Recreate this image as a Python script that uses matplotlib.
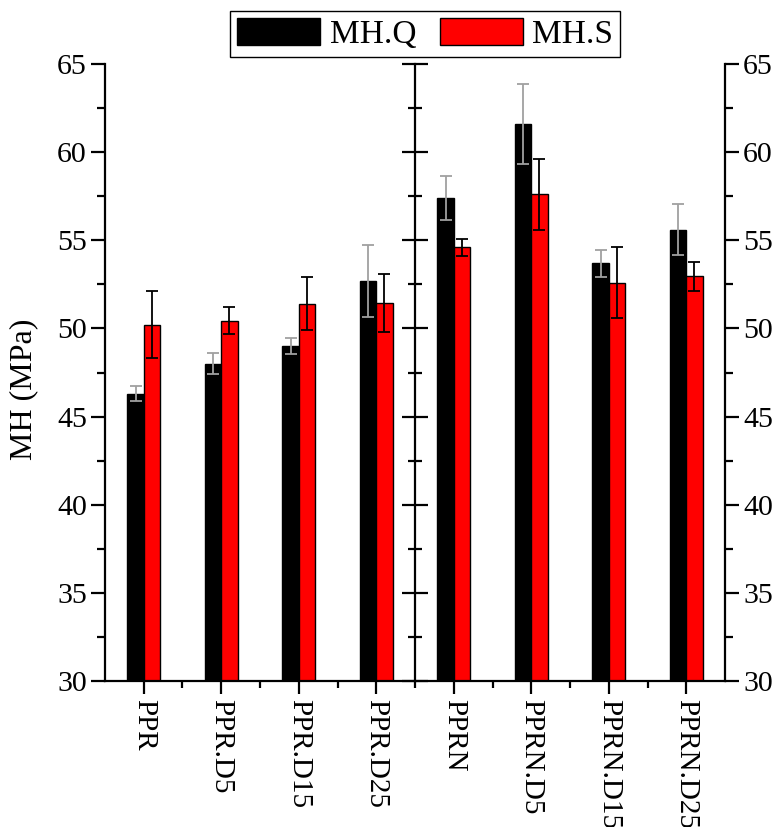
import matplotlib

matplotlib.use("Agg")
import matplotlib.pyplot as plt
import numpy as np
from matplotlib.ticker import AutoMinorLocator, MultipleLocator

plt.rcParams["font.family"] = ["Liberation Serif", "DejaVu Serif"]

samples = ["PPR", "PPR.D5", "PPR.D15", "PPR.D25",
           "PPRN", "PPRN.D5", "PPRN.D15", "PPRN.D25"]
mh_q = [46.3, 48.0, 49.0, 52.7, 57.4, 61.6, 53.7, 55.6]
mh_q_err = [0.42, 0.58, 0.47, 2.05, 1.22, 2.25, 0.77, 1.45]
mh_s = [50.2, 50.45, 51.4, 51.45, 54.6, 57.6, 52.6, 52.95]
mh_s_err = [1.9, 0.77, 1.5, 1.65, 0.5, 2.0, 2.03, 0.84]

x = np.arange(len(samples))
width = 0.212

fig = plt.figure(figsize=(7.76, 8.27), dpi=100)
ax = fig.add_axes([0.1353, 0.1765, 0.799, 0.7461])

ax.bar(x - width / 2, mh_q, width, color="black", edgecolor="black",
       linewidth=1.0, label="MH.Q", zorder=2)
ax.bar(x + width / 2, mh_s, width, color="#ff0000", edgecolor="black",
       linewidth=1.0, label="MH.S", zorder=2)
ax.errorbar(x - width / 2, mh_q, yerr=mh_q_err, fmt="none", ecolor="#a0a0a0",
            elinewidth=1.3, capsize=4, capthick=1.3, zorder=3)
ax.errorbar(x + width / 2, mh_s, yerr=mh_s_err, fmt="none", ecolor="black",
            elinewidth=1.3, capsize=4, capthick=1.3, zorder=3)

ax.set_xlim(-0.5, len(samples) - 0.5)
ax.set_ylim(30, 65)
ax.yaxis.set_major_locator(MultipleLocator(5))
ax.yaxis.set_minor_locator(AutoMinorLocator(2))
ax.set_xticks(x)
ax.set_xticks(x[:-1] + 0.5, minor=True)
ax.set_xticklabels(samples, rotation=270, fontsize=21)

for side in ("left", "right", "bottom"):
    ax.spines[side].set_linewidth(1.6)
ax.spines["top"].set_visible(False)

ax.tick_params(axis="y", which="both", direction="out", left=True, right=True,
               labelleft=True, labelright=True, labelsize=21.5, width=1.6, pad=3)
ax.tick_params(axis="y", which="major", length=10)
ax.tick_params(axis="y", which="minor", length=6)
ax.tick_params(axis="x", which="major", direction="out", length=9.5, width=1.6,
               pad=3.5)
ax.tick_params(axis="x", which="minor", direction="out", length=5, width=1.6)

# divider between the PPR and PPRN groups
mid = ax.secondary_yaxis(0.5)
mid.spines["left"].set_linewidth(1.6)
mid.spines["right"].set_linewidth(1.6)
mid.yaxis.set_major_locator(MultipleLocator(5))
mid.yaxis.set_minor_locator(AutoMinorLocator(2))
mid.tick_params(which="both", direction="inout", width=1.6,
                labelleft=False, labelright=False)
mid.tick_params(which="major", length=19)
mid.tick_params(which="minor", length=10)

ax.set_ylabel("MH (MPa)", fontsize=23)
ax.yaxis.set_label_coords(-0.108, 0.473)

fig.legend(loc="center", bbox_to_anchor=(0.548, 0.959), ncol=2, fontsize=24,
           frameon=True, fancybox=False, edgecolor="black", framealpha=1,
           handlelength=2.5, handleheight=0.9, handletextpad=0.28,
           columnspacing=0.7, borderpad=0.2, borderaxespad=0)

fig.savefig("out.png", dpi=100)
